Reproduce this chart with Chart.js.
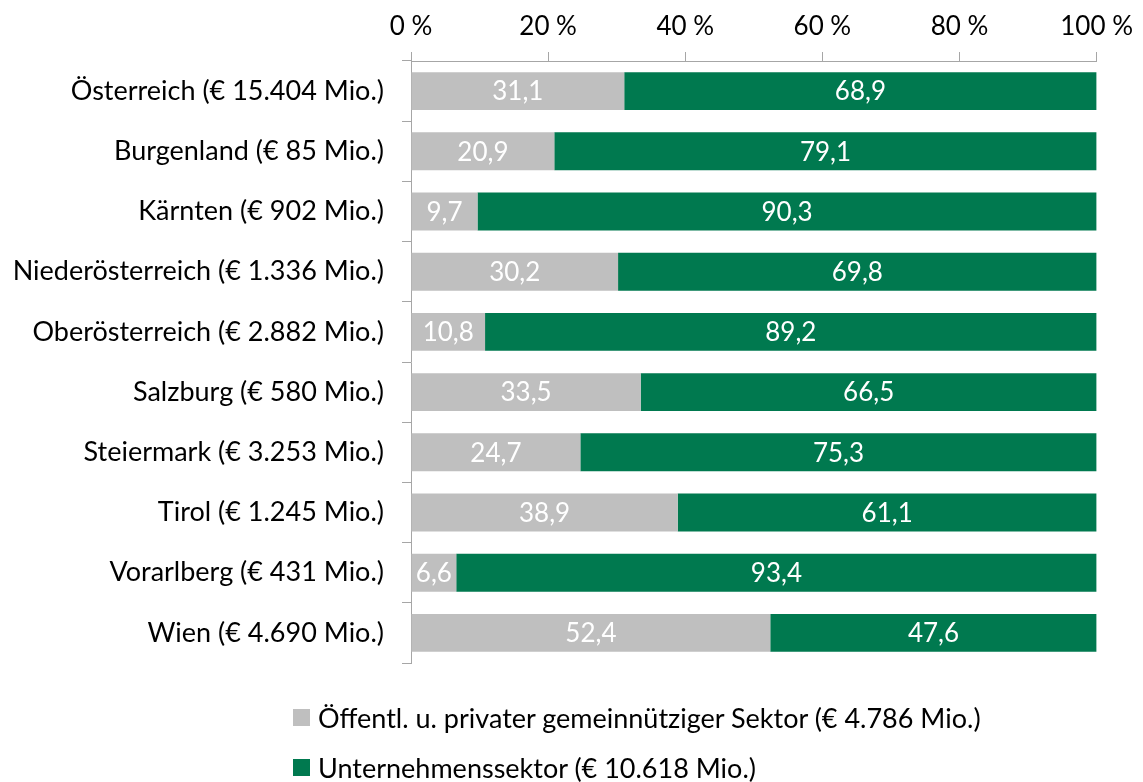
<!DOCTYPE html>
<html lang="de">
<head>
    <meta charset="UTF-8">
    <title>F&amp;E-Ausgaben nach Bundesländern</title>
    <style>
        body {
            margin: 0;
            padding: 0;
            background: #fff;
            font-family: Lato, "Noto Sans", sans-serif;
        }
        .wrap {
            position: relative;
            width: 1143px;
            height: 782px;
        }
        #legend {
            position: absolute;
            left: 293px;
            top: 700px;
            font-size: 27px;
            color: #000;
        }
        .item {
            display: flex;
            align-items: center;
            height: 34px;
            margin-bottom: 16px;
        }
        .box {
            width: 17px;
            height: 17px;
            margin-right: 8px;
        }
    </style>
</head>
<body>
    <div class="wrap">
        <canvas id="chart" width="1143" height="782"></canvas>
        <div id="legend"></div>
    </div>

    <script src="https://cdn.jsdelivr.net/npm/chart.js"></script>
    <script>
        const regions = [
            'Österreich (€ 15.404 Mio.)',
            'Burgenland (€ 85 Mio.)',
            'Kärnten (€ 902 Mio.)',
            'Niederösterreich (€ 1.336 Mio.)',
            'Oberösterreich (€ 2.882 Mio.)',
            'Salzburg (€ 580 Mio.)',
            'Steiermark (€ 3.253 Mio.)',
            'Tirol (€ 1.245 Mio.)',
            'Vorarlberg (€ 431 Mio.)',
            'Wien (€ 4.690 Mio.)'
        ];
        const publicSector = [31.1, 20.9, 9.7, 30.2, 10.8, 33.5, 24.7, 38.9, 6.6, 52.4];
        const businessSector = [68.9, 79.1, 90.3, 69.8, 89.2, 66.5, 75.3, 61.1, 93.4, 47.6];
        const seriesNames = [
            'Öffentl. u. privater gemeinnütziger Sektor (€ 4.786 Mio.)',
            'Unternehmenssektor (€ 10.618 Mio.)'
        ];

        const GREY = '#bfbfbf';
        const GREEN = '#00794f';
        const AXIS = '#a6a6a6';
        const FONT = 'Lato, "Noto Sans", sans-serif';

        // white value labels in the middle of every segment
        const valueLabels = {
            id: 'valueLabels',
            afterDatasetsDraw(chart) {
                const ctx = chart.ctx;
                ctx.save();
                ctx.fillStyle = '#fff';
                ctx.font = '26px ' + FONT;
                ctx.textAlign = 'center';
                ctx.textBaseline = 'middle';
                chart.data.datasets.forEach((ds, i) => {
                    chart.getDatasetMeta(i).data.forEach((bar, j) => {
                        const mid = (bar.x + bar.base) / 2;
                        ctx.fillText(ds.data[j].toFixed(1).replace('.', ','), mid, bar.y + 1);
                    });
                });
                ctx.restore();
            }
        };

        const chart = new Chart(document.getElementById('chart'), {
            type: 'bar',
            data: {
                labels: regions,
                datasets: [
                    { label: seriesNames[0], data: publicSector, backgroundColor: GREY },
                    { label: seriesNames[1], data: businessSector, backgroundColor: GREEN }
                ]
            },
            options: {
                indexAxis: 'y',
                responsive: false,
                animation: false,
                barPercentage: 0.63,
                categoryPercentage: 1,
                layout: { padding: { top: 0, left: 0, right: 45, bottom: 119 } },
                plugins: {
                    legend: { display: false },
                    tooltip: { enabled: false }
                },
                scales: {
                    x: {
                        position: 'top',
                        stacked: true,
                        min: 0,
                        max: 100,
                        afterFit: s => { s.height = 61; },
                        ticks: {
                            stepSize: 20,
                            padding: 10,
                            color: '#000',
                            font: { family: FONT, size: 26 },
                            callback: v => v + ' %'
                        },
                        grid: {
                            drawOnChartArea: false,
                            tickLength: 9,
                            color: AXIS
                        },
                        border: { color: AXIS, width: 1 }
                    },
                    y: {
                        stacked: true,
                        afterFit: s => { s.width = 411; },
                        ticks: {
                            padding: 18,
                            color: '#000',
                            font: { family: FONT, size: 27 }
                        },
                        grid: {
                            offset: true,
                            drawOnChartArea: false,
                            tickLength: 9,
                            color: AXIS
                        },
                        border: { color: AXIS, width: 1 }
                    }
                }
            },
            plugins: [valueLabels]
        });

        // legend in two left-aligned rows, as in the original
        const legend = document.getElementById('legend');
        chart.data.datasets.forEach(ds => {
            const item = document.createElement('div');
            item.className = 'item';
            item.innerHTML = `<span class="box" style="background:${ds.backgroundColor}"></span><span>${ds.label}</span>`;
            legend.appendChild(item);
        });
    </script>
</body>
</html>
